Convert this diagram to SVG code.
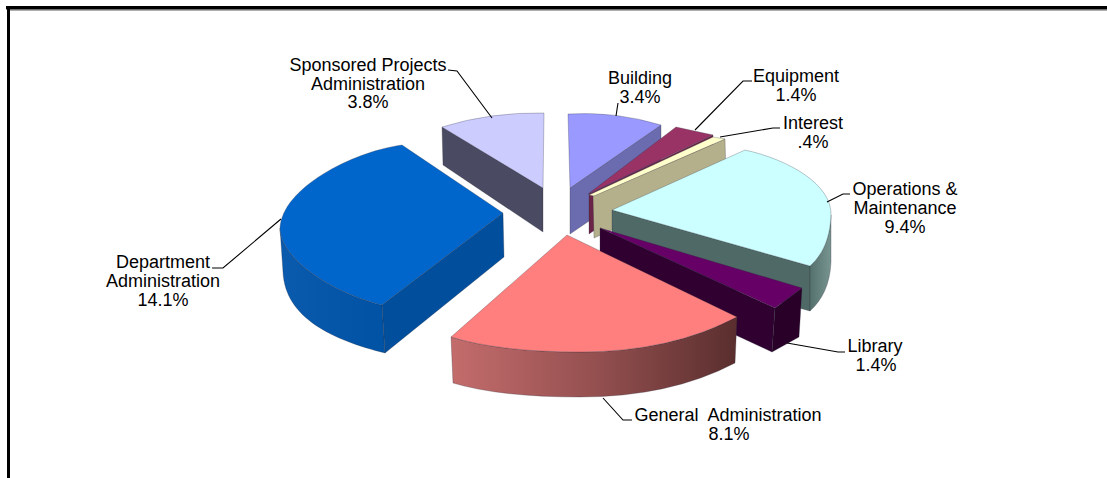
<svg xmlns="http://www.w3.org/2000/svg" width="1107" height="478" viewBox="0 0 1107 478">
<style>
  text { font-family: "Liberation Sans", Arial, sans-serif; font-size: 18px; fill: #000; text-anchor: middle; }
  .e { stroke: #2a2a3a; stroke-opacity: 0.35; stroke-width: 0.8; stroke-linejoin: round; }
  .lead { fill: none; stroke: #000; stroke-width: 1.1; }
</style>
<defs>
  <linearGradient id="gaSide" gradientUnits="userSpaceOnUse" x1="451" y1="0" x2="737" y2="0">
    <stop offset="0" stop-color="#C46C6C"/>
    <stop offset="0.5" stop-color="#955050"/>
    <stop offset="1" stop-color="#5A2E2E"/>
  </linearGradient>
  <linearGradient id="daSide" gradientUnits="userSpaceOnUse" x1="280" y1="0" x2="385" y2="0">
    <stop offset="0" stop-color="#0A5AAE"/>
    <stop offset="1" stop-color="#0052A4"/>
  </linearGradient>
  <linearGradient id="opSide" gradientUnits="userSpaceOnUse" x1="810" y1="0" x2="832" y2="0">
    <stop offset="0" stop-color="#55716D"/>
    <stop offset="1" stop-color="#7A9692"/>
  </linearGradient>
</defs>
<rect width="1107" height="478" fill="#fff"/>
<!-- frame -->
<rect x="7" y="9.3" width="1100" height="1.5" fill="#9a9a9a"/>
<rect x="6" y="6" width="1101" height="3.4" fill="#000"/>
<rect x="7" y="6" width="3" height="472" fill="#000"/>

<g id="sponsored-projects">
  <path class="e" d="M442,127 L543,188 L543,232 L443,165 Z" fill="#4A4A62"/>
  <path class="e" d="M442,127 Q490,112 544,113 L543,188 Z" fill="#CCCCFF"/>
  <text x="368" y="71">Sponsored Projects</text>
  <text x="368" y="89.5">Administration</text>
  <text x="368" y="108">3.8%</text>
</g>
<g id="building">
  <path class="e" d="M661,125 L661,172 L570,234 L570,188 Z" fill="#6B6BB0"/>
  <path class="e" d="M568,114 Q615,111 661,125 L570,188 Z" fill="#9999FF"/>
  <text x="640" y="84">Building</text>
  <text x="640" y="102.5">3.4%</text>
</g>
<g id="equipment">
  <path class="e" d="M713,135 L713,150 L589,234 L589,194 Z" fill="#6B2347"/>
  <path class="e" d="M676,127 L713,135 L588,194 Z" fill="#993366"/>
  <text x="796" y="82">Equipment</text>
  <text x="796" y="101">1.4%</text>
</g>
<g id="interest">
  <path class="e" d="M725,139 L726,178 L594,238 L593,196 Z" fill="#B5B08C"/>
  <path class="e" d="M713,137 L725,139 L594,196 L589,195 Z" fill="#FFFFCC"/>
  <text x="813" y="129">Interest</text>
  <text x="813" y="147.5">.4%</text>
</g>
<g id="operations-maintenance">
  <path class="e" d="M612,210 L810,266 L810,311 L612,256 Z" fill="#4F6966"/>
  <path class="e" d="M810,266 C822,255 830,240 831,215 L831,262 C830,285 822,300 810,311 Z" fill="url(#opSide)"/>
  <path class="e" d="M612,210 L745,150 C790,160 832,185 831,215 C830,240 822,255 810,266 Z" fill="#CCFFFF"/>
  <text x="905" y="195">Operations &amp;</text>
  <text x="905" y="214">Maintenance</text>
  <text x="905" y="232.5">9.4%</text>
</g>
<g id="department-administration">
  <path class="e" d="M280,228 C280,258 330,292 382,305 L385,353 C333,340 285,318 283,272 Z" fill="url(#daSide)"/>
  <path class="e" d="M382,305 L503,213 L504,257 L385,353 Z" fill="#004E9C"/>
  <path class="e" d="M402,145 C352,152 282,188 280,228 C280,258 330,292 382,305 L503,213 Z" fill="#0066CC"/>
  <text x="163" y="268">Department</text>
  <text x="163" y="287">Administration</text>
  <text x="163" y="306">14.1%</text>
</g>
<g id="library">
  <path class="e" d="M600,228 L775,308 L772,352 L600,272 Z" fill="#300030"/>
  <path class="e" d="M775,308 L802,288 L799,337 L772,352 Z" fill="#280028"/>
  <path class="e" d="M600,228 L802,288 L775,308 Z" fill="#660066"/>
  <text x="875" y="352">Library</text>
  <text x="876" y="370.5">1.4%</text>
</g>
<g id="general-administration">
  <path class="e" d="M451,337 Q500,352 580,352 Q670,352 737,317 L735,363 Q670,397 580,397 Q500,397 453,383 Z" fill="url(#gaSide)"/>
  <path class="e" d="M567,235 L737,317 Q670,352 580,352 Q500,352 451,337 Z" fill="#FF7F7F"/>
  <text x="728" y="421" xml:space="preserve">General  Administration</text>
  <text x="729" y="440">8.1%</text>
</g>

<g id="connectors">
  <polyline class="lead" points="448,70 457,71 492,118"/>
  <polyline class="lead" points="618,103 616,116"/>
  <polyline class="lead" points="752,81 743,81 695,130"/>
  <polyline class="lead" points="780,128 773,128 720,137"/>
  <polyline class="lead" points="850,194 843,194 827,202"/>
  <polyline class="lead" points="845,352 838,352 787,343"/>
  <polyline class="lead" points="632,420 623,420 603,398"/>
  <polyline class="lead" points="212,268 223,268 281,219"/>
</g>
</svg>
